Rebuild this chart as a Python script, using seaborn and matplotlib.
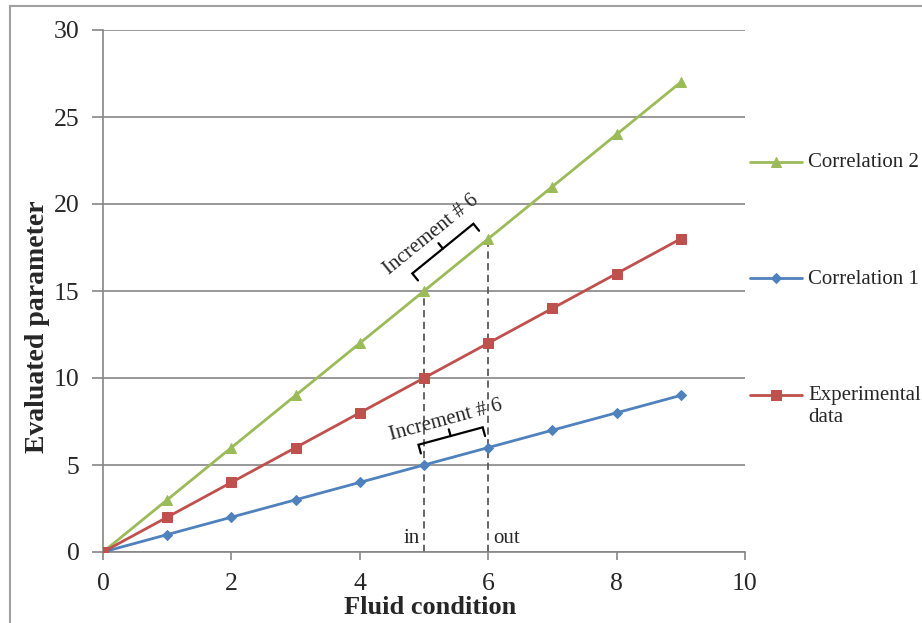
import numpy as np
import pandas as pd
import matplotlib
matplotlib.use("Agg")
import matplotlib.pyplot as plt
from matplotlib.lines import Line2D
import seaborn as sns

# ---- data ----
fluid_condition = [0, 1, 2, 3, 4, 5, 6, 7, 8, 9]
correlation_2 = [0, 3, 6, 9, 12, 15, 18, 21, 24, 27]
experimental = [0, 2, 4, 6, 8, 10, 12, 14, 16, 18]
correlation_1 = [0, 1, 2, 3, 4, 5, 6, 7, 8, 9]
increment_in = 5
increment_out = 6
increment_label = "Increment # 6"
x_ticks = [0, 2, 4, 6, 8, 10]
y_ticks = [0, 5, 10, 15, 20, 25, 30]

GREEN = "#9BBB59"
RED = "#C0504D"
BLUE = "#4F81BD"
GRID = "#868686"

sns.set_theme(style="white")
plt.rcParams["font.family"] = ["Liberation Serif", "DejaVu Serif"]

fig = plt.figure(figsize=(9.22, 6.23), dpi=100)
ax = fig.add_axes([103 / 922, 71 / 623, 642 / 922, 522 / 623])

ax.set_xlim(0, 10)
ax.set_ylim(0, 30)

# gridlines
ax.set_yticks(y_ticks)
ax.set_xticks(x_ticks)
ax.yaxis.grid(True, color=GRID, linewidth=1.2)
ax.xaxis.grid(False)
ax.set_axisbelow(True)

series = [
    ("Correlation 2", correlation_2, GREEN, "^", 7.5),
    ("Correlation 1", correlation_1, BLUE, "D", 5.5),
    ("Experimental\ndata", experimental, RED, "s", 6.5),
]
for name, vals, col, mk, ms in series:
    sns.lineplot(x=fluid_condition, y=vals, color=col, marker=mk, markersize=ms,
                 markeredgecolor=col, linewidth=2.0, ax=ax, label=name, zorder=3)

# dashed vertical lines at in/out of increment
for xv in (increment_in, increment_out):
    yv = correlation_2[fluid_condition.index(xv)]
    ax.plot([xv, xv], [0, yv], linestyle=(0, (4, 2.5)), color="#595959",
            linewidth=1.3, zorder=2)

ax.text(increment_in - 0.07, 0.25, "in", ha="right", va="bottom", fontsize=15)
ax.text(increment_out + 0.08, 0.25, "out", ha="left", va="bottom", fontsize=15)

# braces drawn parallel to each series
def brace(vals, d1=12, d2=21, d3=28, dt=39, inset=2):
    i0 = fluid_condition.index(increment_in)
    i1 = fluid_condition.index(increment_out)
    p0 = ax.transData.transform((fluid_condition[i0], vals[i0]))
    p1 = ax.transData.transform((fluid_condition[i1], vals[i1]))
    u = (p1 - p0) / np.linalg.norm(p1 - p0)
    n = np.array([-u[1], u[0]])
    m = (p0 + p1) / 2
    a = p0 + u * inset
    b = p1 - u * inset
    pts = np.array([a + n * d1, a + n * d2, b + n * d2, b + n * d1])
    inv = ax.transData.inverted()
    dp = inv.transform(pts)
    ax.plot(dp[:, 0], dp[:, 1], color="black", linewidth=1.6, zorder=4,
            solid_joinstyle="miter")
    nub = inv.transform(np.array([m + n * d2, m + n * d3]))
    ax.plot(nub[:, 0], nub[:, 1], color="black", linewidth=1.6, zorder=4)
    tc = inv.transform(m + n * dt)
    ang = np.degrees(np.arctan2(u[1], u[0]))
    ax.text(tc[0], tc[1], increment_label, rotation=ang, rotation_mode="anchor",
            ha="center", va="center", fontsize=15, zorder=5)

brace(correlation_2)
brace(correlation_1, dt=37, inset=0)

# spines and ticks
for s in ("top", "right"):
    ax.spines[s].set_visible(False)
for s in ("left", "bottom"):
    ax.spines[s].set_color(GRID)
    ax.spines[s].set_linewidth(1.2)
ax.tick_params(axis="y", which="both", direction="out", length=8, width=1.2,
               color=GRID, labelsize=18.5, pad=9, left=True)
ax.tick_params(axis="x", which="both", direction="out", length=6, width=1.2,
               color=GRID, labelsize=18.5, pad=9, bottom=True)

ax.set_xlabel("Fluid condition", fontsize=19, fontweight="bold")
ax.set_ylabel("Evaluated parameter", fontsize=20, fontweight="bold")
ax.xaxis.set_label_coords(0.509, -0.085)
ax.yaxis.set_label_coords(-0.083, 0.431)
ax.yaxis.label.set_va("bottom")

# legend
leg = ax.legend(loc="upper left", bbox_to_anchor=(750 / 922, 1 - 153 / 623),
                bbox_transform=fig.transFigure, frameon=False, fontsize=15,
                borderpad=0, borderaxespad=0, handlelength=2.5, handletextpad=0.3,
                handleheight=1.15, labelspacing=4.6)
for col in leg._legend_handle_box.get_children():
    for row in col.get_children():
        row.align = "top"

# figure frame lines
fig.add_artist(Line2D([10 / 922, 10 / 922], [0, 1 - 6 / 623], color="#A0A0A0",
                      linewidth=1.5, transform=fig.transFigure))
fig.add_artist(Line2D([10 / 922, 1], [1 - 6 / 623, 1 - 6 / 623], color="#A0A0A0",
                      linewidth=1.5, transform=fig.transFigure))

fig.savefig("out.png", dpi=100)
